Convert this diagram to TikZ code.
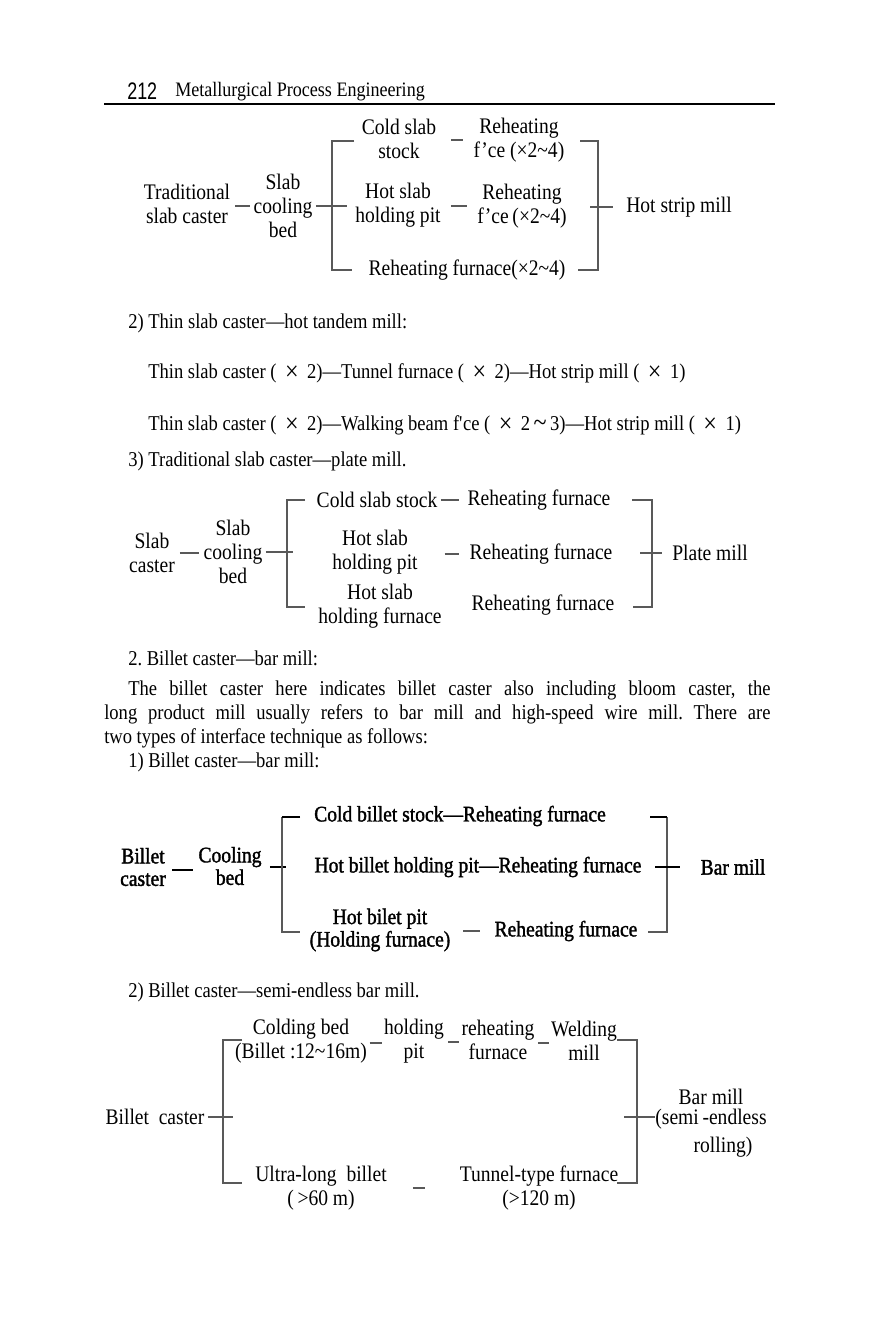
\documentclass[tikz,border=0pt]{standalone}
\usepackage{graphicx}
\usepackage{fontspec}
\setmainfont[FakeStretch=0.88]{Liberation Serif}
\newfontfamily\pagenofont[FakeStretch=0.75]{Liberation Sans}
\newfontfamily\heavyfont[FakeBold=1.5, FakeStretch=0.88]{Liberation Serif}
\usetikzlibrary{positioning}

\newcommand{\bodysize}{\fontsize{15}{17}\selectfont}
\newcommand{\chartsize}{\fontsize{15.8}{17}\selectfont}
\newcommand{\mult}{\hspace{.4em}\raisebox{-.09em}{\scalebox{1.3}{×}}\hspace{.4em}}
\newcommand{\range}{\,\raisebox{-.06em}{\scalebox{1.3}{\textasciitilde}}\,}
\frenchspacing

\begin{document}
\begin{tikzpicture}[x=0.025cm, y=-0.025cm,
  lbl/.style={inner sep=0pt, align=center, font=\chartsize},
  heavy/.style={inner sep=0pt, align=center, font=\heavyfont\fontsize{15.8}{16}\selectfont},
  prose/.style={anchor=west, inner sep=0pt, font=\bodysize},
  link/.style={draw=black!65, line width=0.8pt},
  boldlink/.style={draw=black, line width=1.3pt}
]
\useasboundingbox (0,0) rectangle (879,1332);

  % running head
  \node[anchor=west, inner sep=0pt, font=\pagenofont\fontsize{17}{18}\selectfont] (pageno) at (127,91) {212};
  \node[anchor=west, inner sep=0pt, font=\fontsize{14.6}{16}\selectfont] (runhead) at (175,92) {Metallurgical Process Engineering};
  \coordinate (ruleL) at (104,104);
  \coordinate (ruleR) at (775,104);
  \draw[line width=0.9pt] (ruleL) -- (ruleR);

  % slab caster -- hot strip mill
  \node[lbl] (tsc) at (187,204) {Traditional\\slab caster};
  \node[lbl] (scb) at (283,206) {Slab\\cooling\\bed};
  \node[lbl] (css) at (399,139) {Cold slab\\stock};
  \node[lbl] (rf1) at (519,140) {Reheating\\f’ce (×2\textasciitilde4)};
  \node[lbl] (hsp) at (398,205) {Hot slab\\holding pit};
  \node[lbl] (rf2) at (522,206) {Reheating\\f’ce\,(×2\textasciitilde4)};
  \node[lbl] (rf3) at (467,270) {Reheating furnace(×2\textasciitilde4)};
  \node[lbl] (hsm) at (679,207) {Hot strip mill};
  \draw[link, shorten <=1.2mm, shorten >=0.8mm] (tsc.east |- scb) -- (scb.west);
  \draw[link, shorten <=0.8mm, shorten >=2mm] (scb.east) -- (scb -| hsp.west);
  \draw[link, shorten <=3.7mm, shorten >=2.5mm] (css.east |- rf1) -- (rf1.west);
  \draw[link, shorten <=2.5mm, shorten >=2.5mm] (hsp.east |- rf2) -- (rf2.west);
  \draw[link] (354,141) -- (332,141) -- (332,270) -- (352,270);
  \draw[link] (580,141) -- (598,141) -- (598,270) -- (578,270);
  \coordinate (hsmIn) at (590,207);
  \draw[link, shorten >=3.2mm] (hsmIn) -- (hsm.west);

  % running text
  \node[prose] (t1) at (128,323) {2) Thin slab caster—hot tandem mill:};
  \node[prose] (t2) at (148,373) {Thin slab caster (\mult 2)—Tunnel furnace (\mult 2)—Hot strip mill (\mult 1)};
  \node[prose] (t3) at (148,425) {Thin slab caster (\mult 2)—Walking beam f\textquotesingle ce (\mult 2\range 3)—Hot strip mill (\mult 1)};
  \node[prose] (t4) at (128,461) {3) Traditional slab caster—plate mill.};

  % slab caster -- plate mill
  \node[lbl] (sc2) at (152,553) {Slab\\caster};
  \node[lbl] (scb2) at (233,552) {Slab\\cooling\\bed};
  \node[lbl] (css2) at (377,500) {Cold slab stock};
  \node[lbl] (rf21) at (539,500) {Reheating furnace};
  \node[lbl] (hsp2) at (375,552) {Hot slab\\holding pit};
  \node[lbl] (rf22) at (541,554) {Reheating furnace};
  \node[lbl] (hsf2) at (380,606) {Hot slab\\holding furnace};
  \node[lbl] (rf23) at (543,605) {Reheating furnace};
  \node[lbl] (pm) at (710,553) {Plate mill};
  \draw[link, shorten <=1.2mm, shorten >=1.2mm] (sc2.east) -- (sc2 -| scb2.west);
  \draw[link, shorten <=0.8mm] (scb2.east) -- ++(30,0);
  \draw[link, shorten <=0.8mm, shorten >=2.2mm] (css2.east) -- (rf21.west);
  \draw[link, shorten <=6.7mm, shorten >=2.5mm] (hsp2.east |- rf22) -- (rf22.west);
  \draw[link] (305,500) -- (287,500) -- (287,607) -- (305,607);
  \draw[link] (632,500) -- (652,500) -- (652,607) -- (633,607);
  \coordinate (pmIn) at (640,553);
  \draw[link, shorten >=2.5mm] (pmIn) -- (pm.west);

  % running text
  \node[prose] (t5) at (128,658) {2. Billet caster—bar mill:};
  \node[prose] (t6) at (128,690) {\makebox[16.05cm][s]{The billet caster here indicates billet caster also including bloom caster, the}};
  \node[prose] (t7) at (104,714) {\makebox[16.65cm][s]{long product mill usually refers to bar mill and high-speed wire mill. There are}};
  \node[prose] (t8) at (104,738) {two types of interface technique as follows:};
  \node[prose] (t9) at (128,762) {1) Billet caster—bar mill:};

  % billet caster -- bar mill
  \node[heavy] (bc3) at (143,867) {Billet\\caster};
  \node[heavy] (cb3) at (230,866) {Cooling\\bed};
  \node[heavy] (cbs) at (460,816) {Cold billet stock—Reheating furnace};
  \node[heavy] (hbp) at (478,867) {Hot billet holding pit—Reheating furnace};
  \node[heavy] (hbf) at (380,930) {Hot bilet pit\\(Holding furnace)};
  \node[heavy] (rf33) at (566,931) {Reheating furnace};
  \node[heavy] (bm3) at (733,867) {Bar mill};
  \draw[boldlink, shorten <=1.5mm, shorten >=1.2mm] ([yshift=-1mm]bc3.east |- cb3) -- ([yshift=-1mm]cb3.west);
  \draw[boldlink, shorten <=2mm] (cb3.east |- hbp) -- ++(24,0);
  \draw[link, shorten <=3.2mm, shorten >=3.5mm] (hbf.east |- rf33) -- (rf33.west);
  \draw[link] (282,817) -- (282,932) -- (300,932);
  \draw[boldlink] (300,817) -- (282,817);
  \draw[link] (667,817) -- (667,932) -- (648,932);
  \draw[boldlink] (650,817) -- (667,817);
  \coordinate (bm3In) at (655,867);
  \draw[boldlink, shorten >=5mm] (bm3In) -- (bm3.west);

  % running text
  \node[prose] (t10) at (128,992) {2) Billet caster—semi-endless bar mill.};

  % billet caster -- semi-endless bar mill
  \node[lbl] (bc4) at (155,1117) {Billet\ \ caster};
  \node[lbl] (cdb) at (301,1041) {Colding bed\\(Billet :12\textasciitilde16m)};
  \node[lbl] (hdp) at (414,1041) {holding\\pit};
  \node[lbl] (rhf) at (498,1040) {reheating\\furnace};
  \node[lbl] (wdm) at (584,1041) {Welding\\mill};
  \node[lbl] (ulb) at (321,1188) {Ultra-long\ \ billet\\(\,>60 m)};
  \node[lbl] (ttf) at (539,1188) {Tunnel-type furnace\\(>120 m)};
  \node[lbl] (bm4) at (711,1097) {Bar mill};
  \node[lbl] (se4) at (711,1119) {(semi\,-endless};
  \node[lbl] (ro4) at (723,1147) {rolling)};
  \draw[link, shorten <=0.8mm] (bc4.east) -- ++(28,0);
  \draw[link] (242,1040) -- (223,1040) -- (223,1183) -- (242,1183);
  \draw[link] (617,1040) -- (637,1040) -- (637,1183) -- (617,1183);
  \draw[link, shorten <=0.6mm, shorten >=0.5mm] ([yshift=-0.5mm]cdb.east |- hdp) -- ([yshift=-0.5mm]hdp.west);
  \draw[link, shorten <=1mm, shorten >=0.5mm] ([yshift=-0.5mm]hdp.east |- rhf) -- ([yshift=-0.5mm]rhf.west);
  \draw[link, shorten <=0.8mm, shorten >=0.5mm] ([yshift=-0.5mm]rhf.east |- wdm) -- ([yshift=-0.5mm]wdm.west);
  \draw[link, shorten <=6.5mm, shorten >=8.7mm] (ulb.east |- ttf) -- (ttf.west);
  \coordinate (bm4In) at (624,1117);
  \draw[link] (bm4In) -- (bm4In -| se4.west);

\end{tikzpicture}
\end{document}
